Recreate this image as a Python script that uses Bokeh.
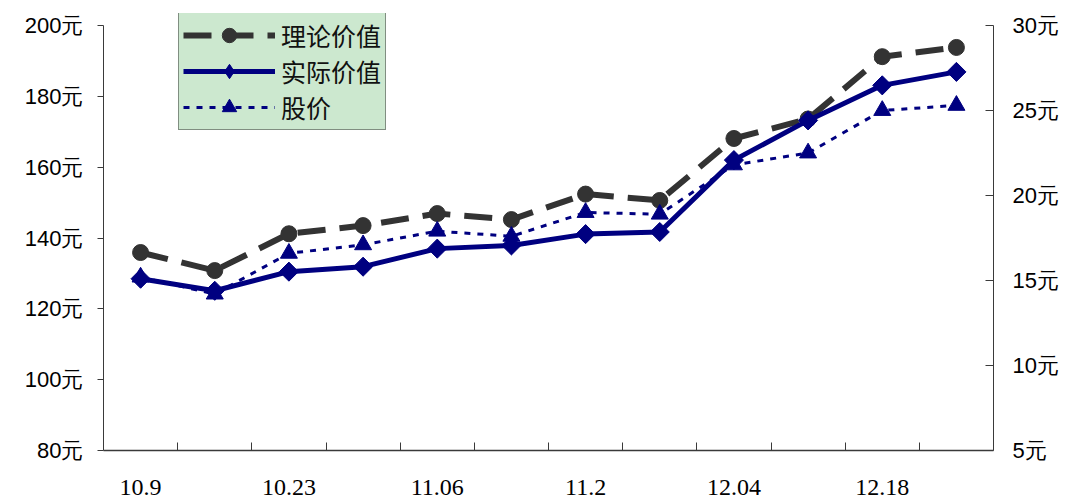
from bokeh.plotting import figure
from bokeh.models import (Range1d, LinearAxis, FixedTicker, PrintfTickFormatter,
                          Legend, LegendItem)
from bokeh.embed import file_html
from bokeh.resources import INLINE

# Weekly observations (12 weeks); only every other week is labelled on the axis
week_index = list(range(12))
week_labels = ["10.9", "10.23", "11.06", "11.2", "12.04", "12.18"]
labelled_weeks = [0, 2, 4, 6, 8, 10]

# Left axis (元): theoretical and actual value
theoretical_value = [135.9, 130.8, 141.2, 143.5, 146.9, 145.2, 152.4, 150.6, 168.1, 173.6, 191.2, 193.8]
actual_value = [128.5, 125.1, 130.5, 131.9, 137.0, 137.9, 141.1, 141.7, 162.0, 173.2, 183.1, 186.9]
# Right axis (元): share price
share_price = [15.2, 14.2, 16.6, 17.1, 17.9, 17.6, 19.0, 18.9, 21.8, 22.5, 25.0, 25.3]

left_ticks = [80, 100, 120, 140, 160, 180, 200]
right_ticks = [5, 10, 15, 20, 25, 30]

xs = [i + 0.5 for i in week_index]

# The frame reaches a little above the top tick so the legend box can sit there;
# the axis lines themselves stop at the top tick.
TOP_PAD_PX = 12
AXIS_PX = 425
left_top = left_ticks[-1] + TOP_PAD_PX * (left_ticks[-1] - left_ticks[0]) / AXIS_PX
right_top = right_ticks[-1] + TOP_PAD_PX * (right_ticks[-1] - right_ticks[0]) / AXIS_PX

p = figure(width=1071, height=501, output_backend="svg", toolbar_location=None,
           x_range=Range1d(0, 12), y_range=Range1d(left_ticks[0], left_top),
           min_border_left=103, min_border_right=78, min_border_top=13, min_border_bottom=51,
           x_axis_location=None, y_axis_location=None)
p.outline_line_color = None
p.xgrid.visible = False
p.ygrid.visible = False
p.extra_y_ranges = {"price": Range1d(right_ticks[0], right_top)}

AXIS_COLOR = "#3a3a3a"

# Left value axis
ly = LinearAxis(ticker=FixedTicker(ticks=left_ticks, minor_ticks=[]),
                formatter=PrintfTickFormatter(format="%d元"),
                bounds=(left_ticks[0], left_ticks[-1]))
ly.axis_line_color = AXIS_COLOR
ly.major_tick_line_color = AXIS_COLOR
ly.major_tick_out = 6
ly.major_tick_in = 0
ly.major_label_standoff = 14
ly.major_label_text_font = "Liberation Sans"
ly.major_label_text_font_size = "22px"
ly.major_label_text_color = "black"
p.add_layout(ly, "left")

# Right price axis
ry = LinearAxis(y_range_name="price", ticker=FixedTicker(ticks=right_ticks, minor_ticks=[]),
                formatter=PrintfTickFormatter(format="%d元"),
                bounds=(right_ticks[0], right_ticks[-1]))
ry.axis_line_color = AXIS_COLOR
ry.major_tick_line_color = AXIS_COLOR
ry.major_tick_out = 0
ry.major_tick_in = 8
ry.major_label_standoff = 19
ry.major_label_text_font = "Liberation Sans"
ry.major_label_text_font_size = "22px"
ry.major_label_text_color = "black"
p.add_layout(ry, "right")

# Bottom week axis: tick marks between weeks, labels at week centres
label_pos = [labelled_weeks[i] + 0.5 for i in range(len(week_labels))]
bx = LinearAxis(ticker=FixedTicker(ticks=label_pos, minor_ticks=list(range(1, 12))))
bx.major_label_overrides = {pos: lab for pos, lab in zip(label_pos, week_labels)}
bx.axis_line_color = AXIS_COLOR
bx.axis_line_width = 1.5
bx.major_tick_line_color = None
bx.major_tick_in = 0
bx.major_tick_out = 0
bx.minor_tick_line_color = AXIS_COLOR
bx.minor_tick_in = 8
bx.minor_tick_out = 0
bx.major_label_standoff = 29
bx.major_label_text_font = "Liberation Serif"
bx.major_label_text_font_size = "24px"
bx.major_label_text_color = "black"
p.add_layout(bx, "below")

GRAY = "#333333"
NAVY = "#000080"

r_th_line = p.line(xs, theoretical_value, line_color=GRAY, line_width=6, line_dash="28 14")
r_th_pts = p.scatter(xs, theoretical_value, marker="circle", size=16,
                     fill_color=GRAY, line_color=GRAY)

r_px_line = p.line(xs, share_price, y_range_name="price", line_color=NAVY,
                   line_width=3, line_dash="6 7")
r_px_pts = p.scatter(xs, share_price, y_range_name="price", marker="triangle", size=17,
                     fill_color=NAVY, line_color=NAVY)

r_ac_line = p.line(xs, actual_value, line_color=NAVY, line_width=5)
# diamond key glyph (sits inside the wider diamonds drawn on top of it)
r_ac_key = p.scatter(xs, actual_value, marker="diamond", size=17,
                     fill_color=NAVY, line_color=NAVY)
# square-proportioned diamonds: squares turned by 45 degrees
r_ac_pts = p.scatter(xs, actual_value, marker="square", size=13.5, angle=0.785398,
                     fill_color=NAVY, line_color=NAVY)

legend = Legend(items=[
    LegendItem(label="理论价值", renderers=[r_th_line, r_th_pts]),
    LegendItem(label="实际价值", renderers=[r_ac_line, r_ac_key]),
    LegendItem(label="股价", renderers=[r_px_line, r_px_pts]),
], location=(75, 320))
legend.background_fill_color = "#CCE8CF"
legend.background_fill_alpha = 1
legend.border_line_color = "#333333"
legend.border_line_width = 1
legend.label_text_font = "Noto Sans CJK SC"
legend.label_text_font_size = "25px"
legend.label_text_color = "#111111"
legend.glyph_width = 92
legend.glyph_height = 36
legend.label_height = 36
legend.spacing = 0
legend.padding = 4
legend.margin = 0
legend.label_standoff = 6
p.add_layout(legend)

open("out.html", "w").write(file_html(p, INLINE))
